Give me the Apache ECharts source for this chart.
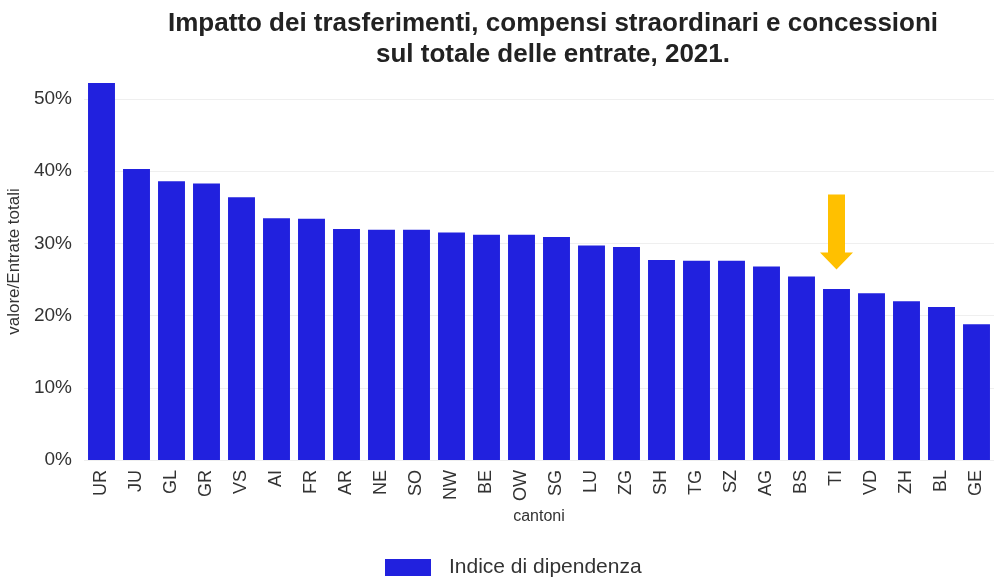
<!DOCTYPE html>
<html>
<head>
<meta charset="utf-8">
<script src="https://cdn.jsdelivr.net/npm/echarts@6/dist/echarts.min.js"></script>
<style>
    html, body { margin: 0; padding: 0; background: #fff; }
    #chart { width: 994px; height: 581px; }
</style>
</head>
<body>
<div id="chart"></div>
<script>
// cantoni e indice di dipendenza (%)
var cantoni = ['UR', 'JU', 'GL', 'GR', 'VS', 'AI', 'FR', 'AR', 'NE', 'SO', 'NW', 'BE', 'OW',
    'SG', 'LU', 'ZG', 'SH', 'TG', 'SZ', 'AG', 'BS', 'TI', 'VD', 'ZH', 'BL', 'GE'];
var indice = [52.2, 40.3, 38.6, 38.3, 36.4, 33.5, 33.4, 32.0, 31.9, 31.9, 31.5, 31.2, 31.2,
    30.9, 29.7, 29.5, 27.7, 27.6, 27.6, 26.8, 25.4, 23.7, 23.1, 22.0, 21.2, 18.8];
var yTicks = [0, 10, 20, 30, 40, 50];
var evidenziato = 'TI';

var font = '"Liberation Sans", Arial, sans-serif';
var chart = echarts.init(document.getElementById('chart'));

var option = {
    animation: false,
    title: {
        text: 'Impatto dei trasferimenti, compensi straordinari e concessioni\nsul totale delle entrate, 2021.',
        left: 548,
        top: 3,
        textAlign: 'center',
        textStyle: {
            fontFamily: font,
            fontSize: 26,
            fontWeight: 'bold',
            color: '#222',
            lineHeight: 31
        }
    },
    legend: {
        data: ['Indice di dipendenza'],
        left: 385,
        top: 557,
        padding: 0,
        itemWidth: 46,
        itemHeight: 17,
        icon: 'rect',
        textStyle: { fontFamily: font, fontSize: 21, color: '#333', padding: [0, 0, 0, 13] }
    },
    grid: {
        left: 84,
        right: 0,
        top: 99,
        bottom: 121,
        outerBoundsMode: 'none'
    },
    xAxis: {
        type: 'category',
        data: cantoni,
        name: 'cantoni',
        nameLocation: 'middle',
        nameGap: 49,
        nameTextStyle: { fontFamily: font, fontSize: 16, color: '#333' },
        axisLine: { show: false },
        axisTick: { show: false },
        axisLabel: {
            rotate: 90,
            margin: 10,
            fontFamily: font,
            fontSize: 18,
            color: '#333',
            interval: 0
        }
    },
    yAxis: {
        type: 'value',
        min: yTicks[0],
        max: yTicks[yTicks.length - 1],
        interval: 10,
        name: 'valore/Entrate totali',
        nameLocation: 'middle',
        nameGap: 54,
        nameTextStyle: { fontFamily: font, fontSize: 17, color: '#333', padding: [0, 0, 0, 36] },
        axisLine: { show: false },
        axisTick: { show: false },
        axisLabel: {
            fontFamily: font,
            fontSize: 19,
            color: '#333',
            margin: 12,
            formatter: '{value}%'
        },
        splitLine: { lineStyle: { color: '#efefef', width: 1 } }
    },
    series: [{
        name: 'Indice di dipendenza',
        type: 'bar',
        data: indice,
        clip: false,
        barCategoryGap: '23%',
        itemStyle: { color: '#2121de' },
        markPoint: {
            symbol: 'path://M8,0 L25,0 L25,58 L33,58 L16.5,75 L0,58 L8,58 Z',
            symbolSize: [33, 75],
            symbolKeepAspect: false,
            label: { show: false },
            itemStyle: { color: '#ffc000' },
            data: [{
                coord: [evidenziato, indice[cantoni.indexOf(evidenziato)]],
                symbolOffset: [0, -57]
            }]
        }
    }]
};

chart.setOption(option);
</script>
</body>
</html>
